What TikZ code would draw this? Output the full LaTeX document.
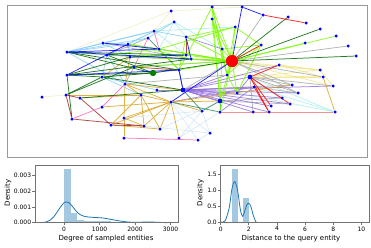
\documentclass[tikz,border=0pt]{standalone}
\usepackage{fontspec}
\setmainfont{DejaVu Sans}
\definecolor{LGreen}{HTML}{7CFC00}
\definecolor{DGreen}{HTML}{006400}
\definecolor{LSky}{HTML}{87CEFA}
\definecolor{PTurq}{HTML}{AFEEEE}
\definecolor{LYel}{HTML}{F3F0C8}
\definecolor{Khaki}{HTML}{F0E68C}
\definecolor{Gold}{HTML}{DAA520}
\definecolor{Brown}{HTML}{A52A2A}
\definecolor{HPink}{HTML}{FF69B4}
\definecolor{MPurple}{HTML}{9370DB}
\definecolor{Teal}{HTML}{2E8B57}
\definecolor{ABlue}{HTML}{D6E8F8}
\definecolor{LCoral}{HTML}{F08080}
\definecolor{GGray}{HTML}{A9A9A9}
\definecolor{BarBlue}{HTML}{A5C8E1}
\definecolor{KdeBlue}{HTML}{1F77B4}
\definecolor{GNode}{HTML}{008000}
\begin{document}
\begin{tikzpicture}[x=1pt,y=-1pt,
  dot/.style={circle,fill=blue,inner sep=0pt,minimum size=3pt},
  bigdot/.style={dot,minimum size=4.6pt},
  hubnode/.style={circle,fill=red,inner sep=0pt,minimum size=12pt},
  gnode/.style={circle,fill=GNode,inner sep=0pt,minimum size=6pt},
  edge/.style={line width=0.75pt,opacity=0.85},
  spine/.style={draw=black!55,line width=0.8pt},
  ticklab/.style={font=\fontsize{6}{7}\selectfont,inner sep=1pt},
  axlab/.style={font=\fontsize{7}{8}\selectfont,inner sep=0pt},
  kde/.style={draw=KdeBlue,line width=0.8pt}]
\useasboundingbox (0,0) rectangle (371,247);
\fill[white] (0,0) rectangle (371,247);
\draw[black!40,line width=1pt] (7,5) rectangle (367,157);
% nodes
\node[hubnode] (H) at (232,61) {};
\node[gnode] (G) at (153,73) {};
\node[bigdot] (B1) at (250,77) {};
\node[bigdot] (B2) at (183,90) {};
\node[bigdot] (B3) at (220,101) {};
\node[dot] (a1) at (171,11) {};
\node[dot] (a2) at (212,7) {};
\node[dot] (a3) at (242,7) {};
\node[dot] (a4) at (263,15) {};
\node[dot] (a5) at (288,17) {};
\node[dot] (a6) at (306,23) {};
\node[dot] (a7) at (174,22) {};
\node[dot] (a8) at (212,19) {};
\node[dot] (a9) at (235,27) {};
\node[dot] (a10) at (320,29) {};
\node[dot] (a11) at (154,31) {};
\node[dot] (a12) at (336,36) {};
\node[dot] (a13) at (186,37) {};
\node[dot] (a14) at (148,38) {};
\node[dot] (a15) at (103,43) {};
\node[dot] (a16) at (128,44) {};
\node[dot] (a17) at (305,43) {};
\node[dot] (a18) at (261,45) {};
\node[dot] (a19) at (348,46) {};
\node[dot] (a20) at (67,52) {};
\node[dot] (a21) at (159,49) {};
\node[dot] (a22) at (222,49) {};
\node[dot] (a23) at (107,55) {};
\node[dot] (a24) at (130,57) {};
\node[dot] (a25) at (186,55) {};
\node[dot] (a26) at (356,56) {};
\node[dot] (a27) at (191,59) {};
\node[dot] (a28) at (134,67) {};
\node[dot] (a29) at (279,65) {};
\node[dot] (a30) at (179,70) {};
\node[dot] (a31) at (320,70) {};
\node[dot] (a32) at (67,75) {};
\node[dot] (a33) at (102,77) {};
\node[dot] (a34) at (227,75) {};
\node[dot] (a35) at (323,77) {};
\node[dot] (a36) at (125,84) {};
\node[dot] (a37) at (157,90) {};
\node[dot] (a38) at (292,85) {};
\node[dot] (a39) at (333,86) {};
\node[dot] (a40) at (254,87) {};
\node[dot] (a41) at (42,97) {};
\node[dot] (a42) at (66,95) {};
\node[dot] (a43) at (80,98) {};
\node[dot] (a44) at (141,95) {};
\node[dot] (a45) at (282,98) {};
\node[dot] (a46) at (298,93) {};
\node[dot] (a47) at (171,102) {};
\node[dot] (a48) at (271,106) {};
\node[dot] (a49) at (290,104) {};
\node[dot] (a50) at (102,107) {};
\node[dot] (a51) at (202,111) {};
\node[dot] (a52) at (220,112) {};
\node[dot] (a53) at (253,112) {};
\node[dot] (a54) at (269,112) {};
\node[dot] (a55) at (335,112) {};
\node[dot] (a56) at (124,118) {};
\node[dot] (a57) at (72,119) {};
\node[dot] (a58) at (111,125) {};
\node[dot] (a59) at (144,126) {};
\node[dot] (a60) at (160,129) {};
\node[dot] (a61) at (210,133) {};
\node[dot] (a62) at (179,138) {};
\node[dot] (a63) at (124,138) {};
\node[dot] (a64) at (198,140) {};
\node[dot] (a65) at (237,93) {};
% edges
\foreach \u/\v in {a51/a62,a51/a61,a47/a64,a61/a64,a60/B3,a62/a52,a59/a61,a56/a51,a47/a61}
  \draw[edge,ABlue] (\u)--(\v);
\foreach \u/\v in {a1/a20,a1/a3,a41/a42,a1/a11,a1/a7}
  \draw[edge,LYel] (\u)--(\v);
\foreach \u/\v in {a7/a16,a7/a11,a7/a21,a55/a40,a55/a65,a11/a25,a16/a14,a7/a13,a7/a22,a11/a9,a55/B1}
  \draw[edge,PTurq] (\u)--(\v);
\foreach \u/\v in {a20/a15,a20/a11,a20/a16,a20/a23,a15/a11,a16/a11,a11/a13,a20/a36,a23/a36,a33/a37,a15/a24,a14/a7,a20/a14,a33/a44,a15/a16,a16/a24,a23/a33}
  \draw[edge,LSky] (\u)--(\v);
\foreach \u/\v in {B1/a31,B1/a35,a29/a31,a31/a39,H/a31,a29/a35,a34/a35,a27/a31,H/a39}
  \draw[edge,Khaki] (\u)--(\v);
\foreach \u/\v in {H/a4,H/a19,B1/a38,B1/a39,B1/a46,B1/a45,B1/a53,B3/a45,B3/a49,a16/H,a23/a27,B2/H,a24/H,a36/a28,a14/a23,a40/a46,a23/H,a15/a27,a33/a30,a28/H,B2/a38,H/a35,H/a38,H/a46,a24/a27,a36/a34}
  \draw[edge,GGray] (\u)--(\v);
\foreach \u/\v in {B2/a40,B2/a45,B2/B3,B2/a65,B2/a48,B2/a53,B2/a54,B2/a49,B2/a34,a65/B1,a13/a22,B2/a46,B2/B1,a52/a40,B2/a29,B2/a39,a47/a40,a37/B2}
  \draw[edge,MPurple] (\u)--(\v);
\foreach \u/\v in {a35/a55,a36/a44,a36/a47,a44/a47,a44/a58,a44/a59,a44/a60,a47/a58,a47/a59,a47/a60,a47/a62,a47/a56,a56/a59,a56/a36,a56/a63,a42/a44,a43/a44,a47/B3,a47/a51,a24/a36,a58/a60,a47/a38,a50/a47,a33/a24,a36/B2}
  \draw[edge,Gold] (\u)--(\v);
\foreach \u/\v in {a42/a57,a43/a58,a58/a59,a57/a59,a13/a25,a28/a30,a42/a43}
  \draw[edge,Brown] (\u)--(\v);
\foreach \u/\v in {a63/a64,a57/a50,a14/a28,a50/a36,a11/a21}
  \draw[edge,HPink] (\u)--(\v);
\foreach \u/\v in {B3/a52,B3/a51,B2/a51,a30/B2,a14/a30,a47/a52}
  \draw[edge,Teal] (\u)--(\v);
\foreach \u/\v in {a52/a55}
  \draw[edge,LCoral] (\u)--(\v);
\foreach \u/\v in {H/a2,H/a8,H/a9,H/a13,H/a18,H/a22,H/a21,H/a23,H/a25,H/a27,H/a30,H/a34,H/B3,H/a52,H/a65,H/a12,H/a17,H/a16,H/a24,H/a28,a9/a21,a9/a13,a8/a22,a2/a22,a18/a22,a22/a34,a18/a34,a13/a30,a18/a65,a2/a34,a8/a34,a22/a52,a9/a34,a2/B3,a8/B3,a23/a21,a23/a25,a16/a27,a21/a30,a34/a65,a9/a18,a2/a30}
  \draw[edge,LGreen] (\u)--(\v);
\foreach \u/\v in {H/a5,H/a10,H/a26,G/a20,G/a32,G/a33,G/a23,G/H,a20/a30,a32/a33,a33/a42,a32/a57,a43/B2,a42/a28,a32/a24,a20/a25,a32/a27,a33/B2}
  \draw[edge,DGreen] (\u)--(\v);
\foreach \u/\v in {a3/H,a3/a4,a20/a21,a20/a27,a32/a30,a32/a16,a15/a21,H/a47,a24/a25,a13/a27,a30/B2}
  \draw[edge,blue] (\u)--(\v);
\foreach \u/\v in {a4/a6,a18/H,B1/a29,B1/a48,B1/a49,B1/a54,a40/a54}
  \draw[edge,red] (\u)--(\v);
% redraw nodes on top
\foreach \n in {a1,a2,a3,a4,a5,a6,a7,a8,a9,a10,a11,a12,a13,a14,a15,a16,a17,a18,a19,a20,a21,a22,a23,a24,a25,a26,a27,a28,a29,a30,a31,a32,a33,a34,a35,a36,a37,a38,a39,a40,a41,a42,a43,a44,a45,a46,a47,a48,a49,a50,a51,a52,a53,a54,a55,a56,a57,a58,a59,a60,a61,a62,a63,a64,a65}
  \fill[blue] (\n) circle (1.5pt);
\fill[blue] (B1) circle (2.3pt);
\fill[blue] (B2) circle (2.3pt);
\fill[blue] (B3) circle (2.3pt);
\fill[GNode] (G) circle (3pt);
\fill[red] (H) circle (6pt);
% ---------- left plot
\begin{scope}[shift={(64pt,-222.7pt)},x=0.0355pt,y=15.7pt]
  \fill[BarBlue] (0,0) rectangle (188,3.4);
  \fill[BarBlue] (188,0) rectangle (376,0.6);
  \fill[BarBlue] (376,0) rectangle (564,0.15);
  \fill[BarBlue] (564,0) rectangle (1316,0.1);
  \fill[BarBlue] (1316,0) rectangle (1692,0.07);
  \fill[BarBlue] (2256,0) rectangle (2632,0.04);
  \draw[kde] plot[smooth] coordinates {(-650,0) (-500,0.05) (-400,0.15) (-300,0.35) (-200,0.65) (-100,1.0) (0,1.27) (60,1.33) (150,1.25) (250,1.0) (350,0.72) (450,0.52) (550,0.42) (700,0.36) (900,0.33) (1100,0.3) (1300,0.22) (1500,0.14) (1700,0.07) (1900,0.03) (2100,0.02) (2300,0.05) (2500,0.04) (2700,0.02) (2900,0.0)};
  \draw[spine] (-817,0) rectangle (3210,3.675);
  \foreach \t in {0,1000,2000,3000}
    \draw[spine] (\t,0) -- ++(0pt,-2.5pt) node[ticklab,below] {\t};
  \foreach \t in {0,1,2,3}
    \draw[spine] (-817,\t) -- ++(-2.5pt,0pt) node[ticklab,left] {0.00\t};
\end{scope}
\node[axlab] (xl1) at (106,238.5) {Degree of sampled entities};
\node[axlab,rotate=90] (yl1) at (8,193) {Density};
% ---------- right plot
\begin{scope}[shift={(220.7pt,-222.7pt)},x=14.07pt,y=32.2pt]
  \fill[BarBlue] (0.78,0) rectangle (1.21,1.68);
  \fill[BarBlue] (1.6,0) rectangle (2.02,0.78);
  \draw[kde] plot[smooth] coordinates {(0,0.02) (0.3,0.05) (0.6,0.45) (0.8,1.05) (1.0,1.28) (1.2,1.0) (1.4,0.4) (1.55,0.2) (1.7,0.35) (1.85,0.55) (2.0,0.6) (2.15,0.5) (2.3,0.25) (2.45,0.07) (2.55,0.0)};
  \draw[spine] (0,0) rectangle (10.6,1.77);
  \foreach \t in {0,2,4,6,8,10}
    \draw[spine] (\t,0) -- ++(0pt,-2.5pt) node[ticklab,below] {\t};
  \foreach \t/\l in {0/0.0,0.5/0.5,1/1.0,1.5/1.5}
    \draw[spine] (0,\t) -- ++(-2.5pt,0pt) node[ticklab,left] {\l};
\end{scope}
\node[axlab] (xl2) at (291,238.5) {Distance to the query entity};
\node[axlab,rotate=90] (yl2) at (200.5,193) {Density};
\end{tikzpicture}
\end{document}
